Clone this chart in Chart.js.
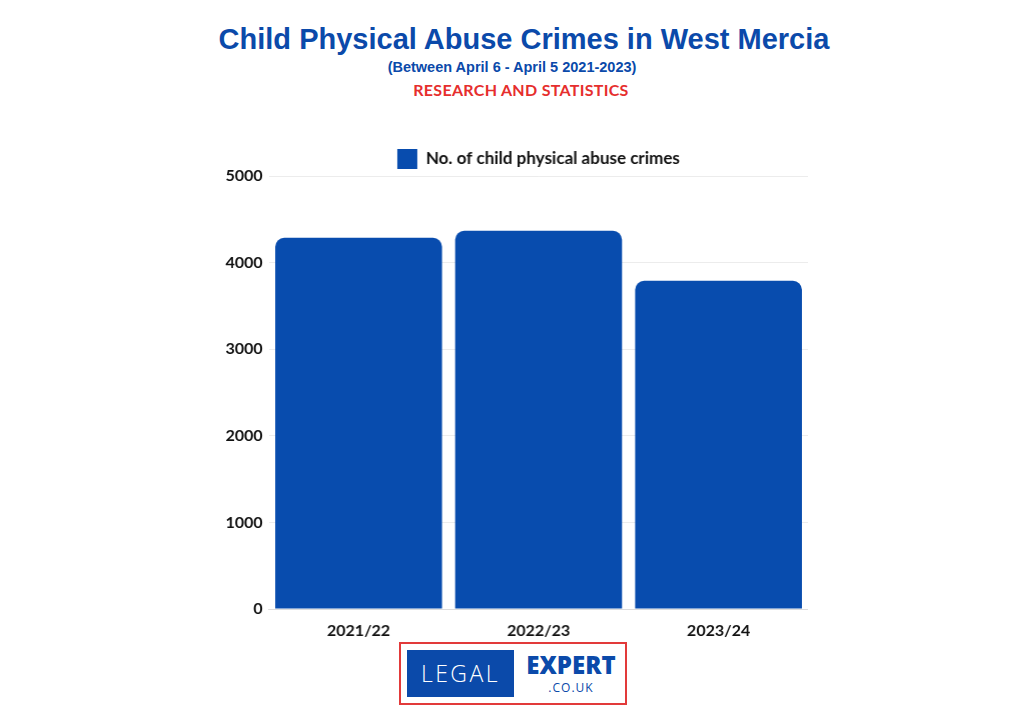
<!DOCTYPE html>
<html>
<head>
<meta charset="utf-8">
<script src="https://cdn.jsdelivr.net/npm/chart.js@4"></script>
<style>
  body { margin: 0; background: #fff; width: 1024px; height: 717px; position: relative; overflow: hidden; }
  .title { position: absolute; left: 0; text-align: center; font-family: "Liberation Sans", Arial, sans-serif; font-weight: bold; color: #0b4aaa; white-space: nowrap; }
  #t1 { top: 23px; width: 1048px; font-size: 29px; }
  #t2 { top: 59px; width: 1024px; font-size: 14.5px; }
  #t3 { top: 80px; width: 1042px; font-size: 16px; font-family: Lato, sans-serif; color: #e62e2d; letter-spacing: 0.3px; }
  #chartBox { position: absolute; left: 190px; top: 134px; width: 617.5px; height: 506px; }
  #logo { position: absolute; left: 399px; top: 642px; width: 228px; height: 63px; border: 2px solid #e23a3a; box-sizing: border-box; }
  #logo .blue { position: absolute; left: 6px; top: 6px; width: 107px; height: 47px; background: #0b4aaa; color: #fff; font-family: "Open Sans", sans-serif; font-weight: 300; font-size: 23px; letter-spacing: 2.5px; line-height: 47px; text-align: center; }
  #logo .ex { position: absolute; left: 118px; top: 8px; width: 104px; text-align: center; color: #0b4aaa; font-family: "Open Sans", sans-serif; font-weight: 800; font-size: 24px; line-height: 26px; }
  #logo .co { position: absolute; left: 118px; top: 35px; width: 104px; text-align: center; color: #0b4aaa; font-family: "Open Sans", sans-serif; font-size: 12px; letter-spacing: 1px; }
</style>
</head>
<body>
<div class="title" id="t1">Child Physical Abuse Crimes in West Mercia</div>
<div class="title" id="t2">(Between April 6 - April 5 2021-2023)</div>
<div class="title" id="t3">RESEARCH AND STATISTICS</div>
<div id="chartBox"><canvas id="chart"></canvas></div>
<div id="logo">
  <div class="blue">LEGAL</div>
  <div class="ex">EXPERT</div>
  <div class="co">.CO.UK</div>
</div>
<script>
// data
const years = ['2021/22', '2022/23', '2023/24'];
const crimes = [4286, 4367, 3790];
const yTicks = [0, 1000, 2000, 3000, 4000, 5000];
const seriesName = 'No. of child physical abuse crimes';

const blue = '#084cae';
const tickFont = { family: 'Lato', size: 16, weight: 'bold' };

// pull the plot closer to the legend, and center the legend over the plot area
const legendTweak = {
    id: 'legendTweak',
    afterInit(chart) {
        const lg = chart.legend;
        const fit = lg.fit;
        lg.fit = function () {
            fit.call(this);
            this.height -= 3;
        };
        const draw = lg.draw;
        lg.draw = function () {
            const ca = chart.chartArea;
            const shift = (ca.left + ca.right) / 2 - (this.left + this.right) / 2;
            this.left += shift; this.right += shift;
            draw.call(this);
            this.left -= shift; this.right -= shift;
        };
    }
};

new Chart(document.getElementById('chart'), {
    type: 'bar',
    data: {
        labels: years,
        datasets: [{
            label: seriesName,
            data: crimes,
            backgroundColor: blue,
            borderRadius: { topLeft: 9, topRight: 9 },
            borderSkipped: 'bottom',
            barPercentage: 0.927,
            categoryPercentage: 1
        }]
    },
    options: {
        responsive: true,
        maintainAspectRatio: false,
        animation: false,
        layout: { padding: { top: 6, right: 0, bottom: 0, left: 0 } },
        plugins: {
            legend: {
                labels: {
                    color: '#111',
                    font: { family: 'Lato', size: 17, weight: 'bold' },
                    boxWidth: 20,
                    boxHeight: 20,
                    padding: 9
                }
            },
            tooltip: { enabled: false }
        },
        scales: {
            x: {
                grid: { display: false },
                border: { color: '#dcdcdc' },
                ticks: { color: '#111', font: tickFont, padding: 4 },
                afterFit: (s) => { s.height = 31; }
            },
            y: {
                min: 0,
                max: 5000,
                afterBuildTicks: (s) => { s.ticks = yTicks.map(v => ({ value: v })); },
                grid: { color: '#ececec', drawTicks: false },
                border: { display: false },
                ticks: { color: '#111', font: tickFont, padding: 6, callback: (v) => String(v) },
                afterFit: (s) => { s.width = 78.5; }
            }
        }
    },
    plugins: [legendTweak]
});
</script>
</body>
</html>
